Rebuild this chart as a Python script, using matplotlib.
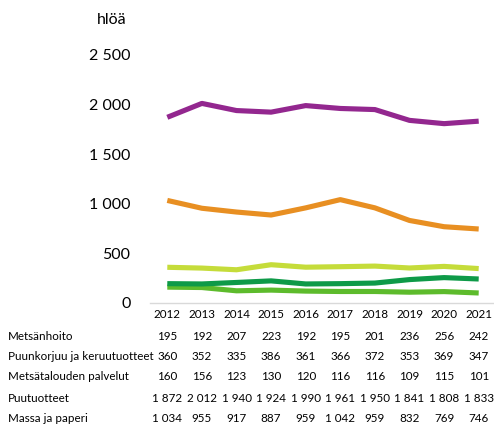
import matplotlib
matplotlib.use("Agg")
import matplotlib.pyplot as plt
import matplotlib.transforms as mtransforms

years = ["2012", "2013", "2014", "2015", "2016", "2017", "2018", "2019", "2020", "2021"]
series_names = ["Metsänhoito", "Puunkorjuu ja keruutuotteet", "Metsätalouden palvelut",
                "Puutuotteet", "Massa ja paperi"]
metsanhoito = [195, 192, 207, 223, 192, 195, 201, 236, 256, 242]
puunkorjuu = [360, 352, 335, 386, 361, 366, 372, 353, 369, 347]
palvelut = [160, 156, 123, 130, 120, 116, 116, 109, 115, 101]
puutuotteet = [1872, 2012, 1940, 1924, 1990, 1961, 1950, 1841, 1808, 1833]
massa = [1034, 955, 917, 887, 959, 1042, 959, 832, 769, 746]
yticks = [0, 500, 1000, 1500, 2000, 2500]
ylabel = "hlöä"

series = [metsanhoito, puunkorjuu, palvelut, puutuotteet, massa]
colors = ["#0E9A48", "#C5DC3A", "#5DBB2C", "#93278F", "#E88F22"]

plt.rcParams['font.family'] = ['Lato', 'DejaVu Sans']

W, H = 494, 428
fig = plt.figure(figsize=(W / 100, H / 100), dpi=100)
ax = fig.add_axes([150 / W, 1 - 303 / H, 346 / W, 248 / H])

x = list(range(len(years)))
for i in [2, 0, 1, 4, 3]:
    ax.plot(x, series[i], color=colors[i], lw=3.7, solid_capstyle='butt', solid_joinstyle='round')

ax.set_xlim(-0.5, len(years) - 0.5)
ax.set_ylim(0, 2500)
ax.set_yticks(yticks)
ax.set_yticklabels([f"{v:,}".replace(",", " ") for v in yticks], fontsize=11.5, color="#000000")
ax.tick_params(axis='y', length=0, pad=14)
ax.set_xticks([])
for s in ["top", "right", "left"]:
    ax.spines[s].set_visible(False)
ax.spines["bottom"].set_color("#D9D9D9")
ax.spines["bottom"].set_linewidth(1.0)

fig.text(97 / W, 1 - 20 / H, ylabel, fontsize=11.5, ha='left', va='center')

trans = mtransforms.blended_transform_factory(ax.transData, fig.transFigure)
tfs = 8.4
row_y = [337, 357, 377, 398, 419]
for xi, yr in zip(x, years):
    ax.text(xi, 1 - 315 / H, yr, transform=trans, ha='center', va='center', fontsize=tfs)
for name, vals, ry in zip(series_names, series, row_y):
    fig.text(8 / W, 1 - ry / H, name, ha='left', va='center', fontsize=tfs)
    for xi, v in zip(x, vals):
        ax.text(xi, 1 - ry / H, f"{v:,}".replace(",", " "), transform=trans,
                ha='center', va='center', fontsize=tfs)

fig.savefig("out.png", dpi=100)
